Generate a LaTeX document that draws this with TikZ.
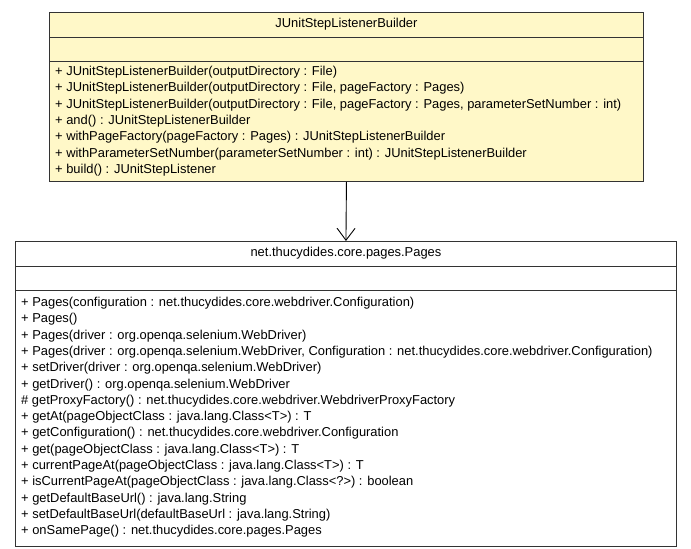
\documentclass[tikz,border=0pt]{standalone}
\usepackage{fontspec}
\setmainfont{Liberation Sans}
\usetikzlibrary{arrows.meta,positioning}
\definecolor{builderfill}{RGB}{255,248,200}
\tikzset{
  umlbox/.style={draw=black!80,line width=0.9pt,anchor=north west,inner sep=0pt},
  umltext/.style={font=\fontsize{12.9}{16.3}\selectfont,inner sep=0pt},
  umlops/.style={umltext,anchor=north west,align=left},
}
\begin{document}
\begin{tikzpicture}[x=1pt,y=-1pt]
            \useasboundingbox (0,0) rectangle (691,549);
            \def\titleh{25}
            \def\emptyh{24}

            % builder class
            \node[umlbox,fill=builderfill,minimum width=594pt,minimum height=169pt] (builder) at (49,12) {};
            \draw[black!80,line width=0.9pt] ([yshift=-\titleh pt]builder.north west) -- ([yshift=-\titleh pt]builder.north east);
            \draw[black!80,line width=0.9pt] ([yshift=-\titleh pt-\emptyh pt]builder.north west) -- ([yshift=-\titleh pt-\emptyh pt]builder.north east);
            \node[umltext] (builder title) at ([yshift=-12.5pt]builder.north) {JUnitStepListenerBuilder};
            \node[umlops] (builder ops) at ([xshift=6pt,yshift=-54pt]builder.north west) {%
              + JUnitStepListenerBuilder(outputDirectory : File)\\
              + JUnitStepListenerBuilder(outputDirectory : File, pageFactory : Pages)\\
              + JUnitStepListenerBuilder(outputDirectory : File, pageFactory : Pages, parameterSetNumber : int)\\
              + and() : JUnitStepListenerBuilder\\
              + withPageFactory(pageFactory : Pages) : JUnitStepListenerBuilder\\
              + withParameterSetNumber(parameterSetNumber : int) : JUnitStepListenerBuilder\\
              + build() : JUnitStepListener};

            % pages class
            \node[umlbox,fill=white,minimum width=661pt,minimum height=305pt] (pages) at (15,241) {};
            \draw[black!80,line width=0.9pt] ([yshift=-\titleh pt]pages.north west) -- ([yshift=-\titleh pt]pages.north east);
            \draw[black!80,line width=0.9pt] ([yshift=-\titleh pt-\emptyh pt]pages.north west) -- ([yshift=-\titleh pt-\emptyh pt]pages.north east);
            \node[umltext] (pages title) at ([yshift=-12.5pt]pages.north) {net.thucydides.core.pages.Pages};
            \node[umlops] (pages ops) at ([xshift=6pt,yshift=-56pt]pages.north west) {%
              + Pages(configuration : net.thucydides.core.webdriver.Configuration)\\
              + Pages()\\
              + Pages(driver : org.openqa.selenium.WebDriver)\\
              + Pages(driver : org.openqa.selenium.WebDriver, Configuration : net.thucydides.core.webdriver.Configuration)\\
              + setDriver(driver : org.openqa.selenium.WebDriver)\\
              + getDriver() : org.openqa.selenium.WebDriver\\
              \# getProxyFactory() : net.thucydides.core.webdriver.WebdriverProxyFactory\\
              + getAt(pageObjectClass : java.lang.Class<T>) : T\\
              + getConfiguration() : net.thucydides.core.webdriver.Configuration\\
              + get(pageObjectClass : java.lang.Class<T>) : T\\
              + currentPageAt(pageObjectClass : java.lang.Class<T>) : T\\
              + isCurrentPageAt(pageObjectClass : java.lang.Class<?>) : boolean\\
              + getDefaultBaseUrl() : java.lang.String\\
              + setDefaultBaseUrl(defaultBaseUrl : java.lang.String)\\
              + onSamePage() : net.thucydides.core.pages.Pages};

            % dependency
            \draw[-{Straight Barb[length=12pt,width=18pt]},line width=0.9pt] (builder.south) -- (pages.north);
        \end{tikzpicture}
\end{document}
